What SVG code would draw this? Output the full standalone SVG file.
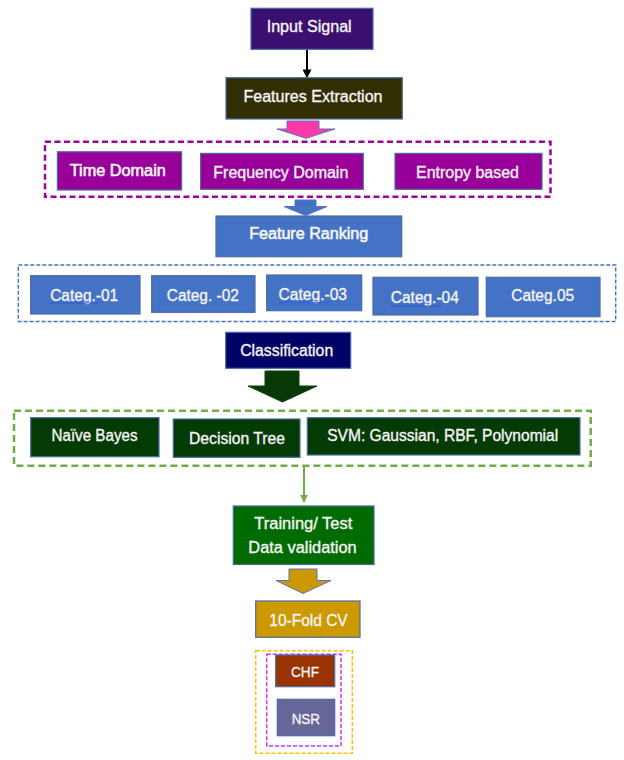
<svg xmlns="http://www.w3.org/2000/svg" width="624" height="760" viewBox="0 0 624 760">
<style>
.n{stroke:#4a6aa8;stroke-width:1.2}
.t{font-family:"Liberation Sans",Arial,sans-serif;font-size:16px;fill:#f4f4f4;stroke:#f4f4f4;stroke-width:0.35;text-anchor:middle}
.b{stroke-width:0.6}
.s14{font-size:14px}
.dash{fill:none}
.barrow{stroke:#5b72c0;stroke-width:1}
.spell{fill:none;stroke:#2a5be0;stroke-width:1}
</style>
<defs>
<marker id="mk" viewBox="0 0 10 10" refX="9" refY="5" markerWidth="4.5" markerHeight="4.5" orient="auto" markerUnits="strokeWidth">
<path d="M0,0 L10,5 L0,10 z" fill="#000"/>
</marker>
<marker id="mg" viewBox="0 0 10 10" refX="9" refY="5" markerWidth="4" markerHeight="4" orient="auto" markerUnits="strokeWidth">
<path d="M0,0 L10,5 L0,10 z" fill="#70ad47"/>
</marker>
</defs>
<rect width="624" height="760" fill="#ffffff"/>

<g id="containers">
<rect class="dash" x="45" y="141.7" width="505.5" height="55" stroke="#a000a0" stroke-width="2.5" stroke-dasharray="6 3.5"/>
<rect class="dash" x="18.3" y="265" width="597.4" height="56.5" stroke="#4472c4" stroke-width="1.4" stroke-dasharray="4 2"/>
<rect class="dash" x="14" y="410.7" width="576.7" height="55" stroke="#70ad47" stroke-width="2.5" stroke-dasharray="7 4"/>
<rect class="dash" x="255.7" y="650.7" width="96.6" height="102.6" stroke="#ffc000" stroke-width="1.5" stroke-dasharray="4 2"/>
<rect class="dash" x="266.7" y="654.3" width="74.3" height="91.7" stroke="#cc33ff" stroke-width="1.5" stroke-dasharray="4 2"/>
</g>

<g id="connectors">
<line x1="307" y1="49.5" x2="307" y2="77.5" stroke="#000" stroke-width="2" marker-end="url(#mk)"/>
<polygon class="barrow" points="287,121 319,121 319,129 335,129 306,138.3 277,129 287,129" fill="#ff3aa6"/>
<polygon class="barrow" points="295,200 316,200 316,206.5 327,206.5 305.5,215.5 284,206.5 295,206.5" fill="#4472c4"/>
<polygon points="265,371 299,371 299,386 317,386 282.5,402 248,386 265,386" fill="#063906" stroke="#0b420b" stroke-width="1"/>
<line x1="304" y1="466" x2="304" y2="502" stroke="#70ad47" stroke-width="2" marker-end="url(#mg)"/>
<polygon class="barrow" points="289,569 317,569 317,580.5 331,580.5 303,593.5 276,580.5 289,580.5" fill="#cc9900"/>
</g>

<g id="input-signal">
<rect class="n" x="251" y="8.3" width="122" height="41" fill="#3b0f70"/>
<text class="t" x="309.2" y="31.7" textLength="85" lengthAdjust="spacingAndGlyphs">Input Signal</text>
</g>
<g id="features-extraction">
<rect class="n" x="226" y="77.7" width="176.3" height="41.3" fill="#312e04"/>
<text class="t" x="313" y="101.7" textLength="139" lengthAdjust="spacingAndGlyphs">Features Extraction</text>
</g>
<g id="time-domain">
<rect class="n" x="57.4" y="151.8" width="124.2" height="38.2" fill="#990099"/>
<text class="t b" x="117.8" y="175.7" textLength="96" lengthAdjust="spacingAndGlyphs">Time Domain</text>
</g>
<g id="frequency-domain">
<rect class="n" x="200.6" y="153.4" width="162.7" height="35.9" fill="#990099"/>
<text class="t" x="280.8" y="178.3" textLength="135" lengthAdjust="spacingAndGlyphs">Frequency Domain</text>
</g>
<g id="entropy-based">
<rect class="n" x="395" y="153.4" width="147" height="35.9" fill="#990099"/>
<text class="t" x="467.5" y="177.8" textLength="103" lengthAdjust="spacingAndGlyphs">Entropy based</text>
</g>
<g id="feature-ranking">
<rect class="n" x="216" y="216" width="185.7" height="40.7" fill="#4472c4"/>
<text class="t b" x="308.7" y="239" textLength="119" lengthAdjust="spacingAndGlyphs">Feature Ranking</text>
</g>
<g id="categ-01">
<rect class="n" x="30.7" y="275.7" width="109.3" height="38.3" fill="#4472c4"/>
<text class="t" x="84.2" y="301" textLength="68" lengthAdjust="spacingAndGlyphs">Categ.-01</text>
<path class="spell" d="M50,303.5 l2,-1 l2,1 l2,-1 l2,1 l2,-1 l2,1 l2,-1 l2,1 l2,-1 l2,1 l2,-1 l2,1 l2,-1 l2,1 l2,-1 l2,1 l2,-1 l2,1 l2,-1 l2,1 l2,-1 l2,1 l2,-1 l2,1"/>
</g>
<g id="categ-02">
<rect class="n" x="151.7" y="275.7" width="103.3" height="36.6" fill="#4472c4"/>
<text class="t" x="202.8" y="301" textLength="72" lengthAdjust="spacingAndGlyphs">Categ. -02</text>
</g>
<g id="categ-03">
<rect class="n" x="266.7" y="275" width="95" height="35.7" fill="#4472c4"/>
<text class="t" x="312.8" y="300.3" textLength="68.5" lengthAdjust="spacingAndGlyphs">Categ.-03</text>
<path class="spell" d="M279,303 l2,-1 l2,1 l2,-1 l2,1 l2,-1 l2,1 l2,-1 l2,1 l2,-1 l2,1 l2,-1 l2,1 l2,-1 l2,1 l2,-1 l2,1 l2,-1 l2,1 l2,-1 l2,1 l2,-1 l2,1 l2,-1 l2,1 l2,-1 l2,1"/>
</g>
<g id="categ-04">
<rect class="n" x="373" y="277.3" width="105" height="37.7" fill="#4472c4"/>
<text class="t" x="424.8" y="302.7" textLength="68" lengthAdjust="spacingAndGlyphs">Categ.-04</text>
<path class="spell" d="M391,306.5 l2,-1 l2,1 l2,-1 l2,1 l2,-1 l2,1 l2,-1 l2,1 l2,-1 l2,1 l2,-1 l2,1 l2,-1 l2,1 l2,-1 l2,1 l2,-1 l2,1 l2,-1 l2,1 l2,-1 l2,1 l2,-1 l2,1 l2,-1"/>
</g>
<g id="categ-05">
<rect class="n" x="486.3" y="277.3" width="113.7" height="39.4" fill="#4472c4"/>
<text class="t" x="542.7" y="301" textLength="63" lengthAdjust="spacingAndGlyphs">Categ.05</text>
</g>
<g id="classification">
<rect class="n" x="225.7" y="332.3" width="125" height="36" fill="#000066"/>
<text class="t" x="286.7" y="355.7" textLength="93" lengthAdjust="spacingAndGlyphs">Classification</text>
</g>
<g id="naive-bayes">
<rect class="n" x="30.7" y="417.7" width="128.3" height="39" fill="#043a04"/>
<text class="t" x="94.5" y="440.7" textLength="86" lengthAdjust="spacingAndGlyphs">Naïve Bayes</text>
</g>
<g id="decision-tree">
<rect class="n" x="173.3" y="419" width="126.7" height="38.3" fill="#043a04"/>
<text class="t" x="237" y="444.3" textLength="96" lengthAdjust="spacingAndGlyphs">Decision Tree</text>
</g>
<g id="svm">
<rect class="n" x="307.3" y="417.7" width="272.7" height="37.3" fill="#043a04"/>
<text class="t" x="442.7" y="440.7" textLength="231" lengthAdjust="spacingAndGlyphs">SVM: Gaussian, RBF, Polynomial</text>
</g>
<g id="training-test">
<rect class="n" x="233.3" y="506" width="140.7" height="58.5" fill="#006b00"/>
<text class="t" x="303.3" y="529.3" textLength="98" lengthAdjust="spacingAndGlyphs">Training/ Test</text>
<text class="t" x="302.5" y="553.3" textLength="108.4" lengthAdjust="spacingAndGlyphs">Data validation</text>
</g>
<g id="ten-fold-cv">
<rect class="n" x="255.7" y="601" width="104.3" height="36.3" fill="#cc9900"/>
<text class="t" x="308.5" y="625.7" textLength="78.4" lengthAdjust="spacingAndGlyphs">10-Fold CV</text>
</g>
<g id="chf">
<rect class="n" x="275.7" y="655" width="59" height="31.7" fill="#993300"/>
<text class="t s14" x="305" y="677.3" textLength="28" lengthAdjust="spacingAndGlyphs">CHF</text>
</g>
<g id="nsr">
<rect class="n" x="277.3" y="699.3" width="57.4" height="36.4" fill="#666699"/>
<text class="t s14" x="305.8" y="724" textLength="28.3" lengthAdjust="spacingAndGlyphs">NSR</text>
</g>
</svg>
